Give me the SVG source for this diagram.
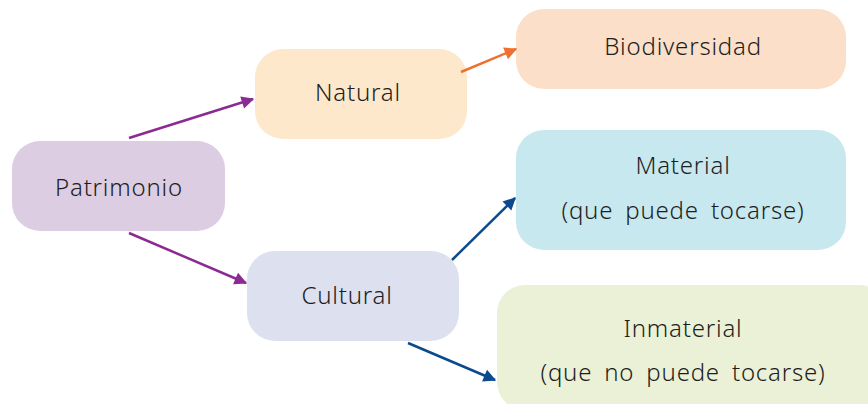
<svg xmlns="http://www.w3.org/2000/svg" width="868" height="404" viewBox="0 0 868 404">
<style>
text{font-family:"Noto Sans","DejaVu Sans",sans-serif;font-size:24px;font-weight:300;letter-spacing:0.8px;word-spacing:5px;fill:#1e1e1e;text-anchor:middle;dominant-baseline:central}
.p{stroke:#8b2a93}.o{stroke:#f07030}.b{stroke:#0b4a8c}
line{stroke-width:2.5}
</style>
<defs>
<marker id="mp" viewBox="0 0 10 10" refX="9" refY="5" markerWidth="7" markerHeight="7" markerUnits="userSpaceOnUse" orient="auto" style="overflow:visible"><path d="M0,0 L10,5 L0,10 z" fill="#8b2a93" transform="scale(1.8) translate(-4,-2.2)"/></marker>
<marker id="mo" viewBox="0 0 10 10" refX="9" refY="5" markerWidth="7" markerHeight="7" markerUnits="userSpaceOnUse" orient="auto" style="overflow:visible"><path d="M0,0 L10,5 L0,10 z" fill="#f07030" transform="scale(1.8) translate(-4,-2.2)"/></marker>
<marker id="mb" viewBox="0 0 10 10" refX="9" refY="5" markerWidth="7" markerHeight="7" markerUnits="userSpaceOnUse" orient="auto" style="overflow:visible"><path d="M0,0 L10,5 L0,10 z" fill="#0b4a8c" transform="scale(1.8) translate(-4,-2.2)"/></marker>
</defs>
<rect width="868" height="404" fill="#fff"/>
<g id="patrimonio"><rect x="12" y="141" width="213" height="90" rx="28" fill="#dccde2"/><text x="119" y="186">Patrimonio</text></g>
<g id="natural"><rect x="255" y="49" width="212" height="90" rx="28" fill="#fde8cc"/><text x="358" y="91">Natural</text></g>
<g id="biodiversidad"><rect x="516" y="9" width="330" height="80" rx="28" fill="#fcdfc9"/><text x="683" y="45">Biodiversidad</text></g>
<g id="material"><rect x="516" y="130" width="330" height="120" rx="28" fill="#c8e8ef"/><text x="683" y="164">Material</text><text x="683" y="209">(que puede tocarse)</text></g>
<g id="cultural"><rect x="247" y="251" width="212" height="90" rx="28" fill="#dde0ee"/><text x="347" y="294">Cultural</text></g>
<g id="inmaterial"><rect x="497" y="285" width="390" height="125" rx="28" fill="#ebf1d6"/><text x="683" y="327">Inmaterial</text><text x="683" y="371">(que no puede tocarse)</text></g>
<g id="connectors">
<line class="p" x1="129" y1="138" x2="253" y2="99" marker-end="url(#mp)"/>
<line class="p" x1="129" y1="233" x2="246" y2="283" marker-end="url(#mp)"/>
<line class="o" x1="461" y1="72" x2="516" y2="49" marker-end="url(#mo)"/>
<line class="b" x1="452" y1="260" x2="515" y2="198" marker-end="url(#mb)"/>
<line class="b" x1="408" y1="343" x2="495" y2="380" marker-end="url(#mb)"/>
</g>
</svg>
